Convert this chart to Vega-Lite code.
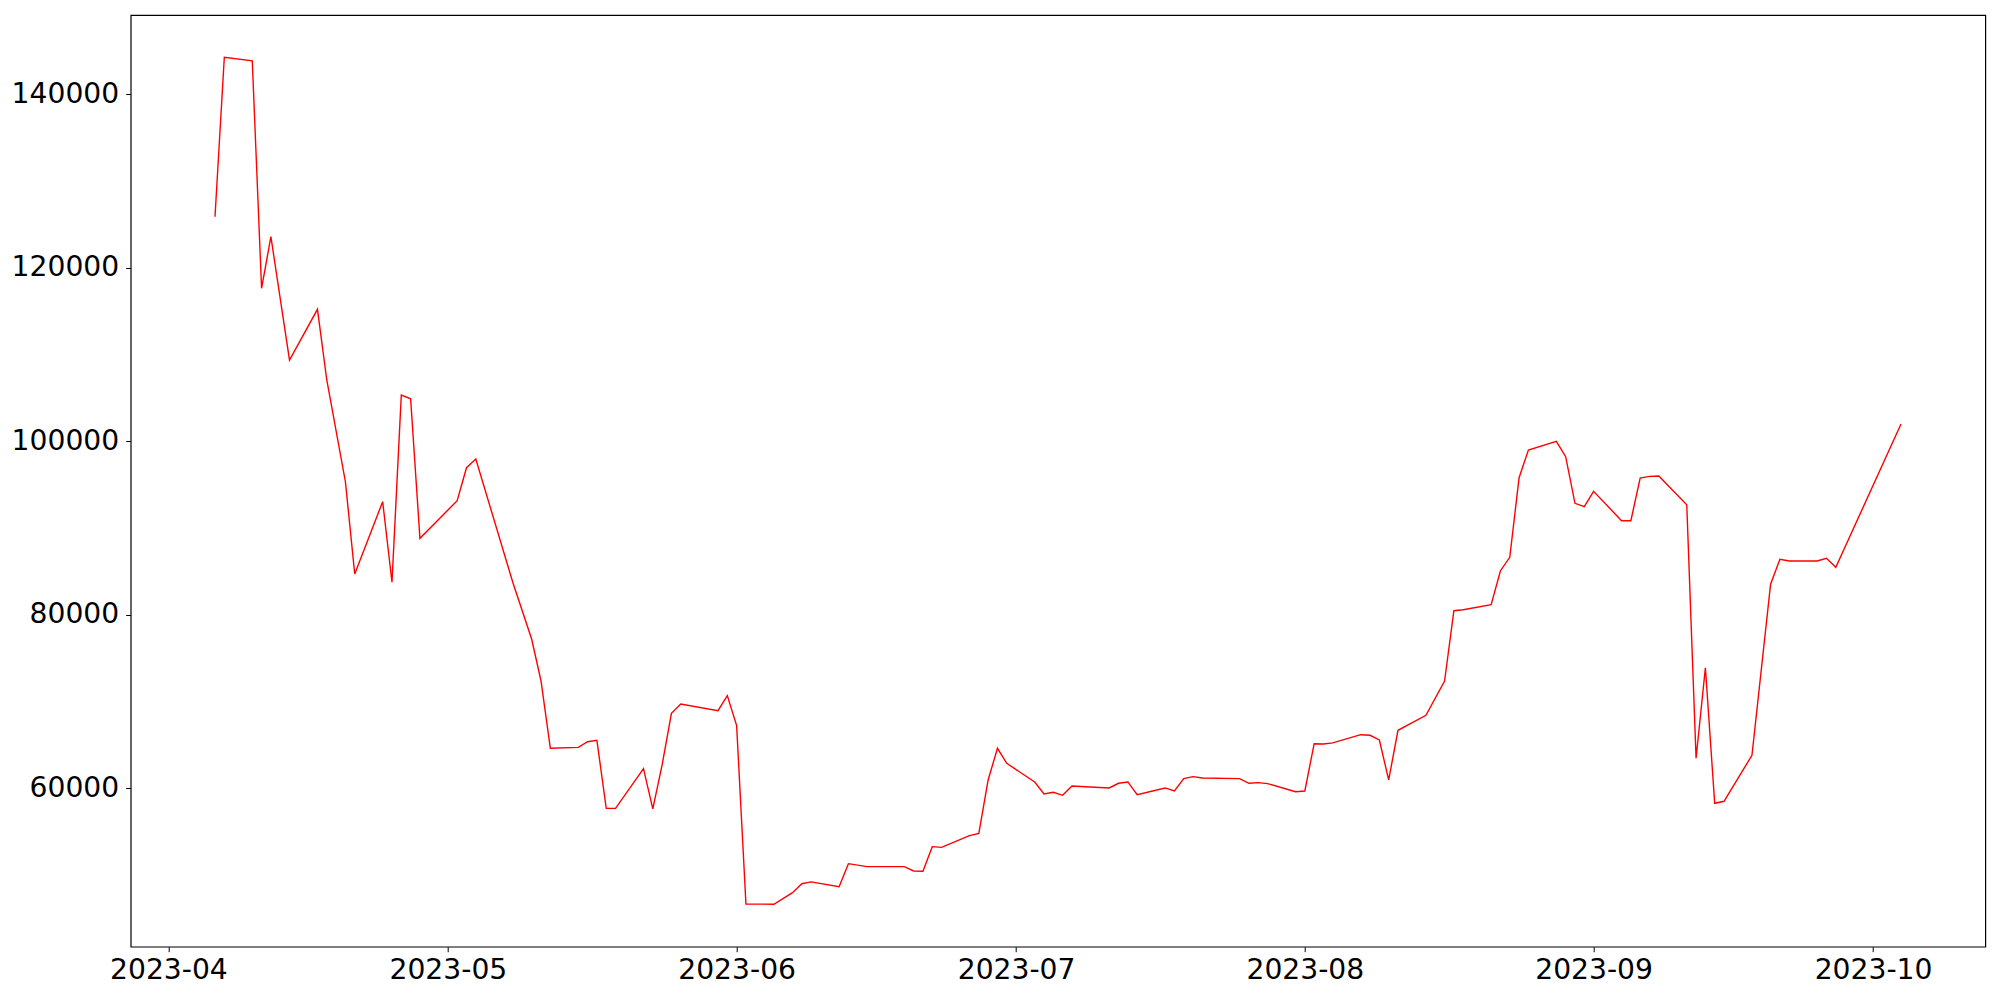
{
  "$schema": "https://vega.github.io/schema/vega-lite/v6.json",
  "width": 1854.6,
  "height": 931.7,
  "autosize": {"type": "none"},
  "padding": {"left": 130.7, "top": 15, "right": 14.7, "bottom": 53.3},
  "background": "white",
  "config": {
    "view": {"stroke": "black", "strokeWidth": 1.2},
    "axis": {
      "domain": false,
      "grid": false,
      "tickColor": "black",
      "tickWidth": 1,
      "tickSize": 5,
      "labelFont": "DejaVu Sans",
      "labelFontSize": 28.2,
      "labelColor": "black",
      "title": null
    }
  },
  "data": {
    "values": [
      {"date": "2023-04-06", "value": 125900},
      {"date": "2023-04-07", "value": 144280},
      {"date": "2023-04-10", "value": 143880},
      {"date": "2023-04-11", "value": 117650},
      {"date": "2023-04-12", "value": 123600},
      {"date": "2023-04-14", "value": 109380},
      {"date": "2023-04-17", "value": 115230},
      {"date": "2023-04-18", "value": 107080},
      {"date": "2023-04-20", "value": 95350},
      {"date": "2023-04-21", "value": 84715},
      {"date": "2023-04-24", "value": 93050},
      {"date": "2023-04-25", "value": 83760},
      {"date": "2023-04-26", "value": 105350},
      {"date": "2023-04-27", "value": 104920},
      {"date": "2023-04-28", "value": 88830},
      {"date": "2023-05-02", "value": 93165},
      {"date": "2023-05-03", "value": 96970},
      {"date": "2023-05-04", "value": 97970},
      {"date": "2023-05-08", "value": 83640},
      {"date": "2023-05-10", "value": 77190},
      {"date": "2023-05-11", "value": 72380},
      {"date": "2023-05-12", "value": 64620},
      {"date": "2023-05-15", "value": 64730},
      {"date": "2023-05-16", "value": 65380},
      {"date": "2023-05-17", "value": 65540},
      {"date": "2023-05-18", "value": 57700},
      {"date": "2023-05-19", "value": 57700},
      {"date": "2023-05-22", "value": 62270},
      {"date": "2023-05-23", "value": 57630},
      {"date": "2023-05-24", "value": 62700},
      {"date": "2023-05-25", "value": 68660},
      {"date": "2023-05-26", "value": 69730},
      {"date": "2023-05-30", "value": 68960},
      {"date": "2023-05-31", "value": 70690},
      {"date": "2023-06-01", "value": 67230},
      {"date": "2023-06-02", "value": 46670},
      {"date": "2023-06-05", "value": 46640},
      {"date": "2023-06-07", "value": 47980},
      {"date": "2023-06-08", "value": 49010},
      {"date": "2023-06-09", "value": 49220},
      {"date": "2023-06-12", "value": 48670},
      {"date": "2023-06-13", "value": 51320},
      {"date": "2023-06-15", "value": 50975},
      {"date": "2023-06-19", "value": 50975},
      {"date": "2023-06-20", "value": 50480},
      {"date": "2023-06-21", "value": 50440},
      {"date": "2023-06-22", "value": 53280},
      {"date": "2023-06-23", "value": 53200},
      {"date": "2023-06-26", "value": 54550},
      {"date": "2023-06-27", "value": 54820},
      {"date": "2023-06-28", "value": 60970},
      {"date": "2023-06-29", "value": 64620},
      {"date": "2023-06-30", "value": 62890},
      {"date": "2023-07-03", "value": 60740},
      {"date": "2023-07-04", "value": 59355},
      {"date": "2023-07-05", "value": 59550},
      {"date": "2023-07-06", "value": 59200},
      {"date": "2023-07-07", "value": 60280},
      {"date": "2023-07-11", "value": 60050},
      {"date": "2023-07-12", "value": 60590},
      {"date": "2023-07-13", "value": 60740},
      {"date": "2023-07-14", "value": 59275},
      {"date": "2023-07-17", "value": 60050},
      {"date": "2023-07-18", "value": 59700},
      {"date": "2023-07-19", "value": 61120},
      {"date": "2023-07-20", "value": 61350},
      {"date": "2023-07-21", "value": 61200},
      {"date": "2023-07-25", "value": 61120},
      {"date": "2023-07-26", "value": 60590},
      {"date": "2023-07-27", "value": 60660},
      {"date": "2023-07-28", "value": 60550},
      {"date": "2023-07-31", "value": 59620},
      {"date": "2023-08-01", "value": 59700},
      {"date": "2023-08-02", "value": 65150},
      {"date": "2023-08-03", "value": 65120},
      {"date": "2023-08-04", "value": 65240},
      {"date": "2023-08-07", "value": 66190},
      {"date": "2023-08-08", "value": 66120},
      {"date": "2023-08-09", "value": 65580},
      {"date": "2023-08-10", "value": 60970},
      {"date": "2023-08-11", "value": 66700},
      {"date": "2023-08-14", "value": 68430},
      {"date": "2023-08-16", "value": 72380},
      {"date": "2023-08-17", "value": 80480},
      {"date": "2023-08-18", "value": 80600},
      {"date": "2023-08-21", "value": 81180},
      {"date": "2023-08-22", "value": 85095},
      {"date": "2023-08-23", "value": 86640},
      {"date": "2023-08-24", "value": 95815},
      {"date": "2023-08-25", "value": 99010},
      {"date": "2023-08-28", "value": 100010},
      {"date": "2023-08-29", "value": 98236},
      {"date": "2023-08-30", "value": 92865},
      {"date": "2023-08-31", "value": 92470},
      {"date": "2023-09-01", "value": 94250},
      {"date": "2023-09-04", "value": 90860},
      {"date": "2023-09-05", "value": 90860},
      {"date": "2023-09-06", "value": 95780},
      {"date": "2023-09-07", "value": 95970},
      {"date": "2023-09-08", "value": 96010},
      {"date": "2023-09-11", "value": 92700},
      {"date": "2023-09-12", "value": 63470},
      {"date": "2023-09-13", "value": 73910},
      {"date": "2023-09-14", "value": 58280},
      {"date": "2023-09-15", "value": 58510},
      {"date": "2023-09-18", "value": 63815},
      {"date": "2023-09-20", "value": 83530},
      {"date": "2023-09-21", "value": 86410},
      {"date": "2023-09-22", "value": 86220},
      {"date": "2023-09-25", "value": 86220},
      {"date": "2023-09-26", "value": 86530},
      {"date": "2023-09-27", "value": 85490},
      {"date": "2023-10-04", "value": 102000}
    ]
  },
  "mark": {"type": "line", "color": "#ff0000", "strokeWidth": 1.4, "clip": true},
  "encoding": {
    "x": {
      "field": "date",
      "type": "temporal",
      "scale": {
        "type": "utc",
        "domain": [
          {"year": 2023, "month": 3, "date": 27, "hours": 22, "minutes": 48, "utc": true},
          {"year": 2023, "month": 10, "date": 13, "hours": 1, "minutes": 12, "utc": true}
        ],
        "nice": false
      },
      "axis": {
        "values": [
          {"year": 2023, "month": 4, "date": 1, "utc": true},
          {"year": 2023, "month": 5, "date": 1, "utc": true},
          {"year": 2023, "month": 6, "date": 1, "utc": true},
          {"year": 2023, "month": 7, "date": 1, "utc": true},
          {"year": 2023, "month": 8, "date": 1, "utc": true},
          {"year": 2023, "month": 9, "date": 1, "utc": true},
          {"year": 2023, "month": 10, "date": 1, "utc": true}
        ],
        "labelExpr": "utcFormat(datum.value, '%Y-%m')",
        "labelPadding": 5,
        "labelAngle": 0,
        "labelOverlap": false
      }
    },
    "y": {
      "field": "value",
      "type": "quantitative",
      "scale": {"domain": [41748, 149159], "nice": false, "zero": false},
      "axis": {
        "values": [60000, 80000, 100000, 120000, 140000],
        "format": "d",
        "labelPadding": 7
      }
    }
  }
}
